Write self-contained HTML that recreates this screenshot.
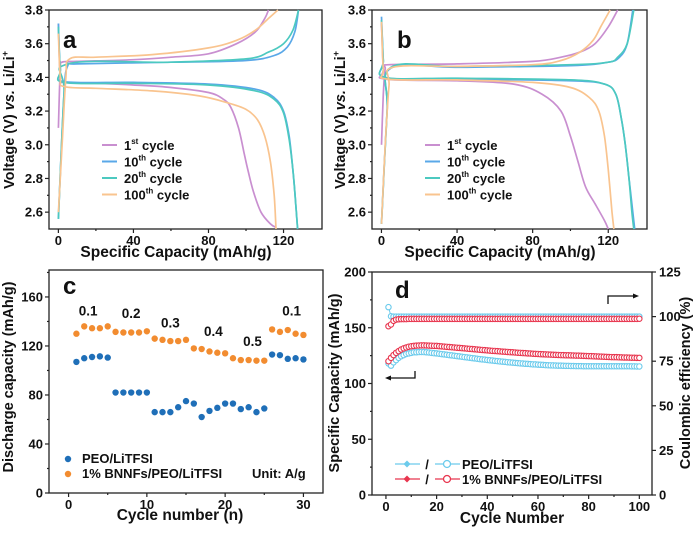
<!DOCTYPE html>
<html><head><meta charset="utf-8"><style>
html,body{margin:0;padding:0;background:#fff;}
svg{display:block;font-family:"Liberation Sans",Arial,sans-serif;font-weight:bold;}
</style></head><body>
<svg id="fig" width="700" height="534" viewBox="0 0 700 534" xmlns="http://www.w3.org/2000/svg"></svg>
<script>
// ---------- Panel a data (capacity, voltage) ----------
const aC1x=[0,1,2,10,40,60,80,95,105,110,112];
const aC1y=[3.1,3.45,3.49,3.495,3.505,3.52,3.54,3.6,3.67,3.75,3.8];
const aD1x=[0,1,3,20,40,60,80,88,92,96,99,101,104,108,113,116];
const aD1y=[3.72,3.4,3.37,3.365,3.355,3.34,3.31,3.27,3.22,3.1,2.95,2.85,2.72,2.6,2.53,2.51];
const aC10x=[0,3,5,10,60,100,115,122,126,128];
const aC10y=[2.56,3.3,3.47,3.48,3.49,3.5,3.53,3.58,3.67,3.8];
const aD10x=[0,1,3,40,80,105,115,120,123,125,126.5,127.5];
const aD10y=[3.72,3.45,3.375,3.37,3.36,3.33,3.28,3.2,3.05,2.85,2.65,2.5];
const aC20x=[0,3,5,60,100,112,120,125,128];
const aC20y=[2.56,3.3,3.48,3.49,3.51,3.55,3.6,3.68,3.8];
const aD20x=[0,1,3,40,80,105,115,120,123,125,126.5,127.5];
const aD20y=[3.7,3.45,3.37,3.365,3.355,3.32,3.27,3.19,3.03,2.85,2.65,2.5];
const aC100x=[0,2,4,6,20,50,80,95,105,112,117];
const aC100y=[2.6,3.0,3.4,3.51,3.52,3.535,3.575,3.62,3.68,3.75,3.8];
const aD100x=[0,1,3,20,50,75,90,100,106,110,113,115,116];
const aD100y=[3.66,3.4,3.345,3.335,3.32,3.29,3.25,3.21,3.15,3.05,2.9,2.7,2.5];
// ---------- Panel b data ----------
const bC1x=[0,1,2,4,40,80,95,105,113,120,125];
const bC1y=[3.0,3.3,3.45,3.475,3.48,3.495,3.52,3.55,3.6,3.7,3.8];
const bD1x=[0,1,2,40,70,85,95,100,104,108,113,118,120];
const bD1y=[3.72,3.45,3.39,3.38,3.36,3.3,3.2,3.05,2.9,2.75,2.65,2.55,2.5];
const bC10x=[0,3,5,40,100,120,126,130,133];
const bC10y=[2.53,3.2,3.455,3.46,3.47,3.49,3.52,3.6,3.8];
const bD10x=[0,1,2,40,100,118,124,127,129,131,133,134];
const bD10y=[3.76,3.5,3.4,3.39,3.38,3.36,3.3,3.15,3.0,2.8,2.6,2.5];
const bC20x=[0,3,5,40,100,120,125,130,133.5];
const bC20y=[2.53,3.2,3.46,3.465,3.475,3.49,3.52,3.6,3.8];
const bD20x=[0,1,2,40,100,118,124,127,129,131,132.5,133.5];
const bD20y=[3.74,3.5,3.4,3.395,3.385,3.36,3.3,3.15,3.0,2.8,2.6,2.5];
const bC100x=[0,2,4,6,40,80,95,105,112,116,121];
const bC100y=[2.53,3.0,3.35,3.46,3.465,3.475,3.5,3.55,3.62,3.7,3.8];
const bD100x=[0,1,3,40,80,100,110,115,118,120,122,123];
const bD100y=[3.73,3.45,3.39,3.385,3.37,3.34,3.28,3.2,3.05,2.85,2.6,2.5];
// ---------- Panel c data ----------
const cCycles=[1,2,3,4,5,6,7,8,9,10,11,12,13,14,15,16,17,18,19,20,21,22,23,24,25,26,27,28,29,30];
const cPEO=[107,110,111,111.5,110.5,82,82,82,82,82,66,66,66,70,75,73,62,67,69.5,73,73,68.5,70,66,69,113,112.5,109.5,110,109];
const cBNNF=[130,136,134.5,134.5,136,131.5,131,131,131,132,126,125,124,124,125,118,117.5,115.5,114.5,114,110,108.5,108.5,108,108,133.5,131.5,133,130,129];
const cRates=["0.1","0.2","0.3","0.4","0.5","0.1"];
const cRateX=[2.5,8,13,18.5,23.5,28.5];
const cRateY=[145,143,135,128,120,145];
// ---------- Panel d data ----------
const dPEOcap=[118,116,119,121,123,124.5,125.5,126.5,127,127.5,128,128,128.2,128.3,128.2,128,127.8,127.5,127.2,127,
126.7,126.4,126.1,125.8,125.5,125.2,124.9,124.6,124.3,124,123.7,123.4,123.1,122.8,122.5,122.2,121.9,121.6,121.4,121.1,
120.8,120.6,120.3,120.1,119.8,119.6,119.4,119.1,118.9,118.7,118.5,118.3,118.1,117.9,117.7,117.6,117.4,117.2,117.1,116.9,
116.8,116.7,116.5,116.4,116.3,116.2,116.1,116,116,115.9,115.8,115.8,115.7,115.7,115.6,115.6,115.6,115.5,115.5,115.5,
115.5,115.5,115.5,115.5,115.5,115.5,115.5,115.5,115.5,115.5,115.5,115.5,115.5,115.5,115.5,115.5,115.4,115.4,115.3,115.3];
const dBNNFcap=[120,123,125.5,127.5,129,130.5,131.5,132.3,133,133.4,133.7,134,134.1,134.2,134.2,134.1,134,133.9,133.8,133.7,
133.5,133.3,133.1,132.9,132.7,132.5,132.3,132.1,131.9,131.7,131.5,131.3,131.1,130.9,130.7,130.5,130.3,130.1,129.9,129.7,
129.5,129.3,129.2,129,128.8,128.6,128.5,128.3,128.1,128,127.8,127.6,127.5,127.3,127.2,127,126.9,126.7,126.6,126.5,
126.3,126.2,126.1,126,125.9,125.8,125.7,125.6,125.5,125.4,125.3,125.3,125.2,125.1,125,125,124.9,124.8,124.7,124.6,
124.5,124.4,124.3,124.2,124.1,124,123.9,123.8,123.7,123.6,123.6,123.5,123.4,123.3,123.3,123.2,123.1,123.1,123,123];
const dPEOce=[105.3,100.2,100,100,100,100,100,100,100,100,100,100,100,100,100,100,100,100,100,100,
100,100,100,100,100,100,100,100,100,100,100,100,100,100,100,100,100,100,100,100,
100,100,100,100,100,100,100,100,100,100,100,100,100,100,100,100,100,100,100,100,
100,100,100,100,100,100,100,100,100,100,100,100,100,100,100,100,100,100,100,100,
100,100,100,100,100,100,100,100,100,100,100,100,100,100,100,100,100,100,100,100];
const dBNNFce=[94.6,95.6,97.6,98.3,98.5,98.6,98.6,98.6,98.7,98.7,98.7,98.7,98.7,98.7,98.7,98.7,98.7,98.7,98.7,98.7,
98.7,98.7,98.7,98.7,98.7,98.7,98.7,98.7,98.7,98.7,98.7,98.7,98.7,98.7,98.7,98.7,98.7,98.7,98.7,98.7,
98.7,98.7,98.7,98.7,98.7,98.7,98.7,98.7,98.7,98.7,98.7,98.7,98.7,98.7,98.7,98.7,98.7,98.7,98.7,98.7,
98.7,98.7,98.7,98.7,98.7,98.7,98.7,98.7,98.7,98.7,98.7,98.7,98.7,98.7,98.7,98.7,98.7,98.7,98.7,98.7,
98.7,98.7,98.7,98.7,98.7,98.7,98.7,98.7,98.7,98.7,98.7,98.7,98.7,98.7,98.7,98.7,98.7,98.7,98.7,98.8];

const NS="http://www.w3.org/2000/svg";
const svg=document.getElementById('fig');
function el(tag,attrs,parent,text){const e=document.createElementNS(NS,tag);for(const k in attrs)e.setAttribute(k,attrs[k]);if(text!==undefined)e.textContent=text;(parent||svg).appendChild(e);return e;}
function scale(d0,d1,r0,r1){return v=>r0+(v-d0)*(r1-r0)/(d1-d0);}
function txt(x,y,s,size,anchor,name,rot){const t=el('text',{x:x,y:y,'font-size':size,'text-anchor':anchor||'middle',fill:'#111'},svg,s);if(rot)t.setAttribute('transform','rotate(-90 '+x+' '+y+')');return t;}
function frame(x0,y0,x1,y1,name){const r=el('rect',{x:x0,y:y0,width:x1-x0,height:y1-y0,fill:'none',stroke:'#222','stroke-width':1.3});}
function tick(x1,y1,x2,y2){el('line',{x1:x1,y1:y1,x2:x2,y2:y2,stroke:'#222','stroke-width':1.2});}
function curve(xs,ys,sx,sy,color,name){
  const P=xs.map((v,i)=>[sx(v),sy(ys[i])]);
  let d='M'+P[0][0].toFixed(1)+','+P[0][1].toFixed(1);
  for(let i=0;i<P.length-1;i++){
    const p0=P[Math.max(i-1,0)],p1=P[i],p2=P[i+1],p3=P[Math.min(i+2,P.length-1)];
    const c1=[p1[0]+(p2[0]-p0[0])/6,p1[1]+(p2[1]-p0[1])/6],c2=[p2[0]-(p3[0]-p1[0])/6,p2[1]-(p3[1]-p1[1])/6];
    d+='C'+c1[0].toFixed(1)+','+c1[1].toFixed(1)+' '+c2[0].toFixed(1)+','+c2[1].toFixed(1)+' '+p2[0].toFixed(1)+','+p2[1].toFixed(1);
  }
  const p=el('path',{d:d,fill:'none',stroke:color,'stroke-width':1.7,'stroke-linejoin':'round'});}

const COL={p:'#c98fd0',b:'#5aa8e8',t:'#4cc9c0',o:'#f9c48f'};

// ---------- Voltage panels ----------
function voltagePanel(px0,px1,letter,letterX,data,legX,titleX,xTitleX,tag){
  const y0=10,y1=229;
  const sx=scale(-5,140.5,px0,px1), sy=scale(2.5,3.8,y1,y0);
  frame(px0,y0,px1,y1,tag+'-plot-frame');
  [2.6,2.8,3.0,3.2,3.4,3.6,3.8].forEach(v=>{tick(px0-4,sy(v),px0,sy(v));txt(px0-6,sy(v)+4.5,v.toFixed(1),13,'end',tag+'-y-tick-label');});
  [2.7,2.9,3.1,3.3,3.5,3.7].forEach(v=>tick(px0-2,sy(v),px0,sy(v)));
  [0,40,80,120].forEach(v=>{tick(sx(v),y1,sx(v),y1+4);txt(sx(v),y1+16,String(v),13,'middle',tag+'-x-tick-label');});
  [20,60,100].forEach(v=>tick(sx(v),y1,sx(v),y1+2));
  data.forEach(s=>curve(s[0],s[1],sx,sy,s[2],s[3]));
  txt(letterX,y0+38,letter,24,'start',tag+'-panel-label');
  txt(xTitleX,y1+28,'Specific Capacity (mAh/g)',15.5,'middle',tag+'-x-axis-title');
  const t=el('text',{x:titleX,y:120,'font-size':14.5,'text-anchor':'middle',fill:'#111',transform:'rotate(-90 '+titleX+' 120)'},svg);
  
  t.innerHTML='Voltage (V) <tspan font-style="italic">vs.</tspan> Li/Li<tspan dy="-6" font-size="9">+</tspan>';
  const lg=[['1','st',COL.p],['10','th',COL.b],['20','th',COL.t],['100','th',COL.o]];
  lg.forEach((l,i)=>{const y=145+i*16.5;
    const ln=el('line',{x1:legX,y1:y,x2:legX+15,y2:y,stroke:l[2],'stroke-width':2});
    const tt=el('text',{x:legX+22,y:y+5,'font-size':13,fill:'#111'},svg);
    tt.innerHTML=l[0]+'<tspan dy="-6" font-size="8">'+l[1]+'</tspan><tspan dy="6"> cycle</tspan>';});
}
voltagePanel(49,322,'a',63,[
 [aC1x,aC1y,COL.p,'a-cycle1-charge'],[aD1x,aD1y,COL.p,'a-cycle1-discharge'],
 [aC10x,aC10y,COL.b,'a-cycle10-charge'],[aD10x,aD10y,COL.b,'a-cycle10-discharge'],
 [aC20x,aC20y,COL.t,'a-cycle20-charge'],[aD20x,aD20y,COL.t,'a-cycle20-discharge'],
 [aC100x,aC100y,COL.o,'a-cycle100-charge'],[aD100x,aD100y,COL.o,'a-cycle100-discharge']],102,14,176,'a');
voltagePanel(372,647,'b',397,[
 [bC1x,bC1y,COL.p,'b-cycle1-charge'],[bD1x,bD1y,COL.p,'b-cycle1-discharge'],
 [bC10x,bC10y,COL.b,'b-cycle10-charge'],[bD10x,bD10y,COL.b,'b-cycle10-discharge'],
 [bC20x,bC20y,COL.t,'b-cycle20-charge'],[bD20x,bD20y,COL.t,'b-cycle20-discharge'],
 [bC100x,bC100y,COL.o,'b-cycle100-charge'],[bD100x,bD100y,COL.o,'b-cycle100-discharge']],425,345,500,'b');

// ---------- Panel c ----------
(function(){
  const x0=49,x1=323,y0=270,y1=493;
  const sx=scale(-2.5,32.5,x0,x1), sy=scale(0,182,y1,y0);
  frame(x0,y0,x1,y1,'c-plot-frame');
  [0,40,80,120,160].forEach(v=>{tick(x0-4,sy(v),x0,sy(v));txt(x0-6,sy(v)+4.5,String(v),13,'end','c-y-tick-label');});
  [20,60,100,140,180].forEach(v=>tick(x0-2,sy(v),x0,sy(v)));
  [0,10,20,30].forEach(v=>{tick(sx(v),y1,sx(v),y1+4);txt(sx(v),y1+16,String(v),13,'middle','c-x-tick-label');});
  [5,15,25].forEach(v=>tick(sx(v),y1,sx(v),y1+2));
  cCycles.forEach((c,i)=>{
    const a=el('circle',{cx:sx(c),cy:sy(cPEO[i]),r:3.2,fill:'#1f6fb8'});
    const b=el('circle',{cx:sx(c),cy:sy(cBNNF[i]),r:3.2,fill:'#f28c30'});
  });
  cRates.forEach((r,i)=>txt(sx(cRateX[i]),sy(cRateY[i]),r,13.5,'middle','c-rate-label'));
  txt(63,294,'c',24,'start','c-panel-label');
  txt(13,377,'Discharge capacity (mAh/g)',14.5,'middle','c-y-axis-title',true);
  txt(180,520,'Cycle number (n)',15.5,'middle','c-x-axis-title');
  const l1=el('circle',{cx:68,cy:459,r:3.2,fill:'#1f6fb8'});
  const l2=el('circle',{cx:68,cy:474,r:3.2,fill:'#f28c30'});
  txt(82,463,'PEO/LiTFSI',13,'start','c-legend-entry-peo');
  txt(82,478,'1% BNNFs/PEO/LiTFSI',13,'start','c-legend-entry-bnnf');
  txt(252,478,'Unit: A/g',13,'start','c-unit-note');
})();

// ---------- Panel d ----------
(function(){
  const x0=372,x1=652,y0=272,y1=495;
  const sx=scale(-5.5,105,x0,x1), sy=scale(0,200,y1,y0), sr=scale(0,125,y1,y0);
  frame(x0,y0,x1,y1,'d-plot-frame');
  [0,50,100,150,200].forEach(v=>{tick(x0-4,sy(v),x0,sy(v));txt(x0-6,sy(v)+4.5,String(v),13,'end','d-left-y-tick-label');});
  [25,75,125,175].forEach(v=>tick(x0-2,sy(v),x0,sy(v)));
  [0,25,50,75,100,125].forEach(v=>{tick(x1,sr(v),x1+4,sr(v));txt(x1+7,sr(v)+4.5,String(v),13,'start','d-right-y-tick-label');});
  [0,20,40,60,80,100].forEach(v=>{tick(sx(v),y1,sx(v),y1+4);txt(sx(v),y1+16,String(v),13,'middle','d-x-tick-label');});
  [10,30,50,70,90].forEach(v=>tick(sx(v),y1,sx(v),y1+2));
  const cyc=dPEOcap.map((_,i)=>i+1);
  function series(vals,s,color,filled,name){
    let d='';vals.forEach((v,i)=>{d+=(i?'L':'M')+sx(cyc[i]).toFixed(1)+','+s(v).toFixed(1);});
    const p=el('path',{d:d,fill:'none',stroke:color,'stroke-width':1});
    vals.forEach((v,i)=>{const c=el('circle',{cx:sx(cyc[i]),cy:s(v),r:2.7,fill:filled?color:'#fff',stroke:color,'stroke-width':1.1});
      });
  }
  series(dPEOcap,sy,'#6ccbec',false,'d-peo-capacity');
  series(dBNNFcap,sy,'#e8364f',false,'d-bnnf-capacity');
  series(dPEOce,sr,'#6ccbec',false,'d-peo-ce');
  series(dBNNFce,sr,'#e8364f',false,'d-bnnf-ce');
  txt(395,298,'d',24,'start','d-panel-label');
  txt(339,383,'Specific Capacity (mAh/g)',14.5,'middle','d-left-y-axis-title',true);
  txt(690,383,'Coulombic efficiency (%)',14.5,'middle','d-right-y-axis-title',true);
  txt(512,523,'Cycle Number',15.5,'middle','d-x-axis-title');
  const a1=el('path',{d:'M415,371 L415,378 L390,378',fill:'none',stroke:'#111','stroke-width':1.3});
  el('path',{d:'M385,378 L391,375.5 L391,380.5 Z',fill:'#111'});
  const a2=el('path',{d:'M608,304 L608,296 L634,296',fill:'none',stroke:'#111','stroke-width':1.3});
  el('path',{d:'M639,296 L633,293.5 L633,298.5 Z',fill:'#111'});
  [['#6ccbec',464,'PEO/LiTFSI','peo'],['#e8364f',479,'1% BNNFs/PEO/LiTFSI','bnnf']].forEach(l=>{
    const y=l[1];
    const g1=el('line',{x1:395,y1:y,x2:420,y2:y,stroke:l[0],'stroke-width':1.3});
    el('path',{d:'M407,'+(y-3.5)+' L410.5,'+y+' L407,'+(y+3.5)+' L403.5,'+y+' Z',fill:l[0]});
    txt(427,y+5,'/',13,'middle','d-legend-separator');
    const g2=el('line',{x1:435,y1:y,x2:460,y2:y,stroke:l[0],'stroke-width':1.3});
    el('circle',{cx:447,cy:y,r:3.5,fill:'#fff',stroke:l[0],'stroke-width':1.3});
    txt(462,y+5,l[2],13,'start','d-legend-entry-'+l[3]);
  });
})();
</script>
</body></html>
